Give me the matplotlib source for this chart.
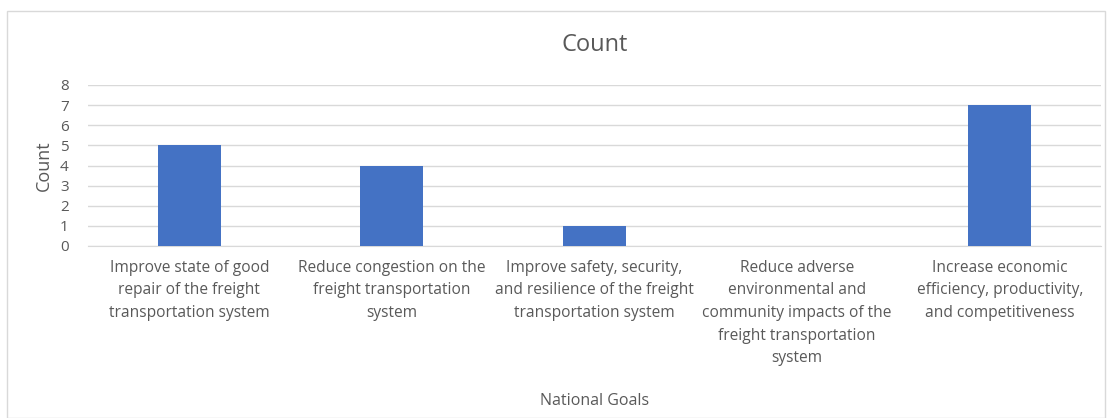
import matplotlib
matplotlib.use("Agg")
import matplotlib.pyplot as plt
from matplotlib.patches import Rectangle

categories = [
    "Improve state of good\nrepair of the freight\ntransportation system",
    "Reduce congestion on the\nfreight transportation\nsystem",
    "Improve safety, security,\nand resilience of the freight\ntransportation system",
    "Reduce adverse\nenvironmental and\ncommunity impacts of the\nfreight transportation\nsystem",
    "Increase economic\nefficiency, productivity,\nand competitiveness",
]
counts = [5, 4, 1, 0, 7]
yticks = [0, 1, 2, 3, 4, 5, 6, 7, 8]

plt.rcParams['font.family'] = ['Open Sans', 'DejaVu Sans']
txt = '#595959'

W, H = 1115, 418
fig = plt.figure(figsize=(W/100, H/100), dpi=100)
fig.patches.append(Rectangle((7/W, 0), (1105-7)/W, (H-11)/H, transform=fig.transFigure,
                             fill=False, edgecolor='#D9D9D9', linewidth=1))
ax = fig.add_axes([88/W, 1-246/H, (1101-88)/W, (246-85)/H])
x = list(range(len(categories)))
ax.bar(x, counts, width=0.31, color='#4472C4', zorder=3)
ax.set_xlim(-0.5, len(categories)-0.5)
ax.set_ylim(0, 8)
ax.set_yticks(yticks)
ax.yaxis.grid(True, color='#D9D9D9', linewidth=1, zorder=0)
for s in ['top', 'right', 'left']:
    ax.spines[s].set_visible(False)
ax.spines['bottom'].set_color('#D9D9D9')
ax.tick_params(axis='both', length=0, colors=txt, labelsize=11)
ax.tick_params(axis='y', pad=14)
ax.set_xticks(x)
ax.set_xticklabels(categories, fontsize=11.2, color=txt, linespacing=1.55)
ax.tick_params(axis='x', pad=10)
ax.set_ylabel('Count', fontsize=13, color=txt, labelpad=5)
fig.text(0.5*(88+1101)/W, 1-45/H, 'Count', ha='center', va='center', fontsize=17, color=txt)
fig.text(0.5*(88+1101)/W, 1-401/H, 'National Goals', ha='center', va='center', fontsize=11.5, color=txt)
fig.savefig('out.png', dpi=100)
